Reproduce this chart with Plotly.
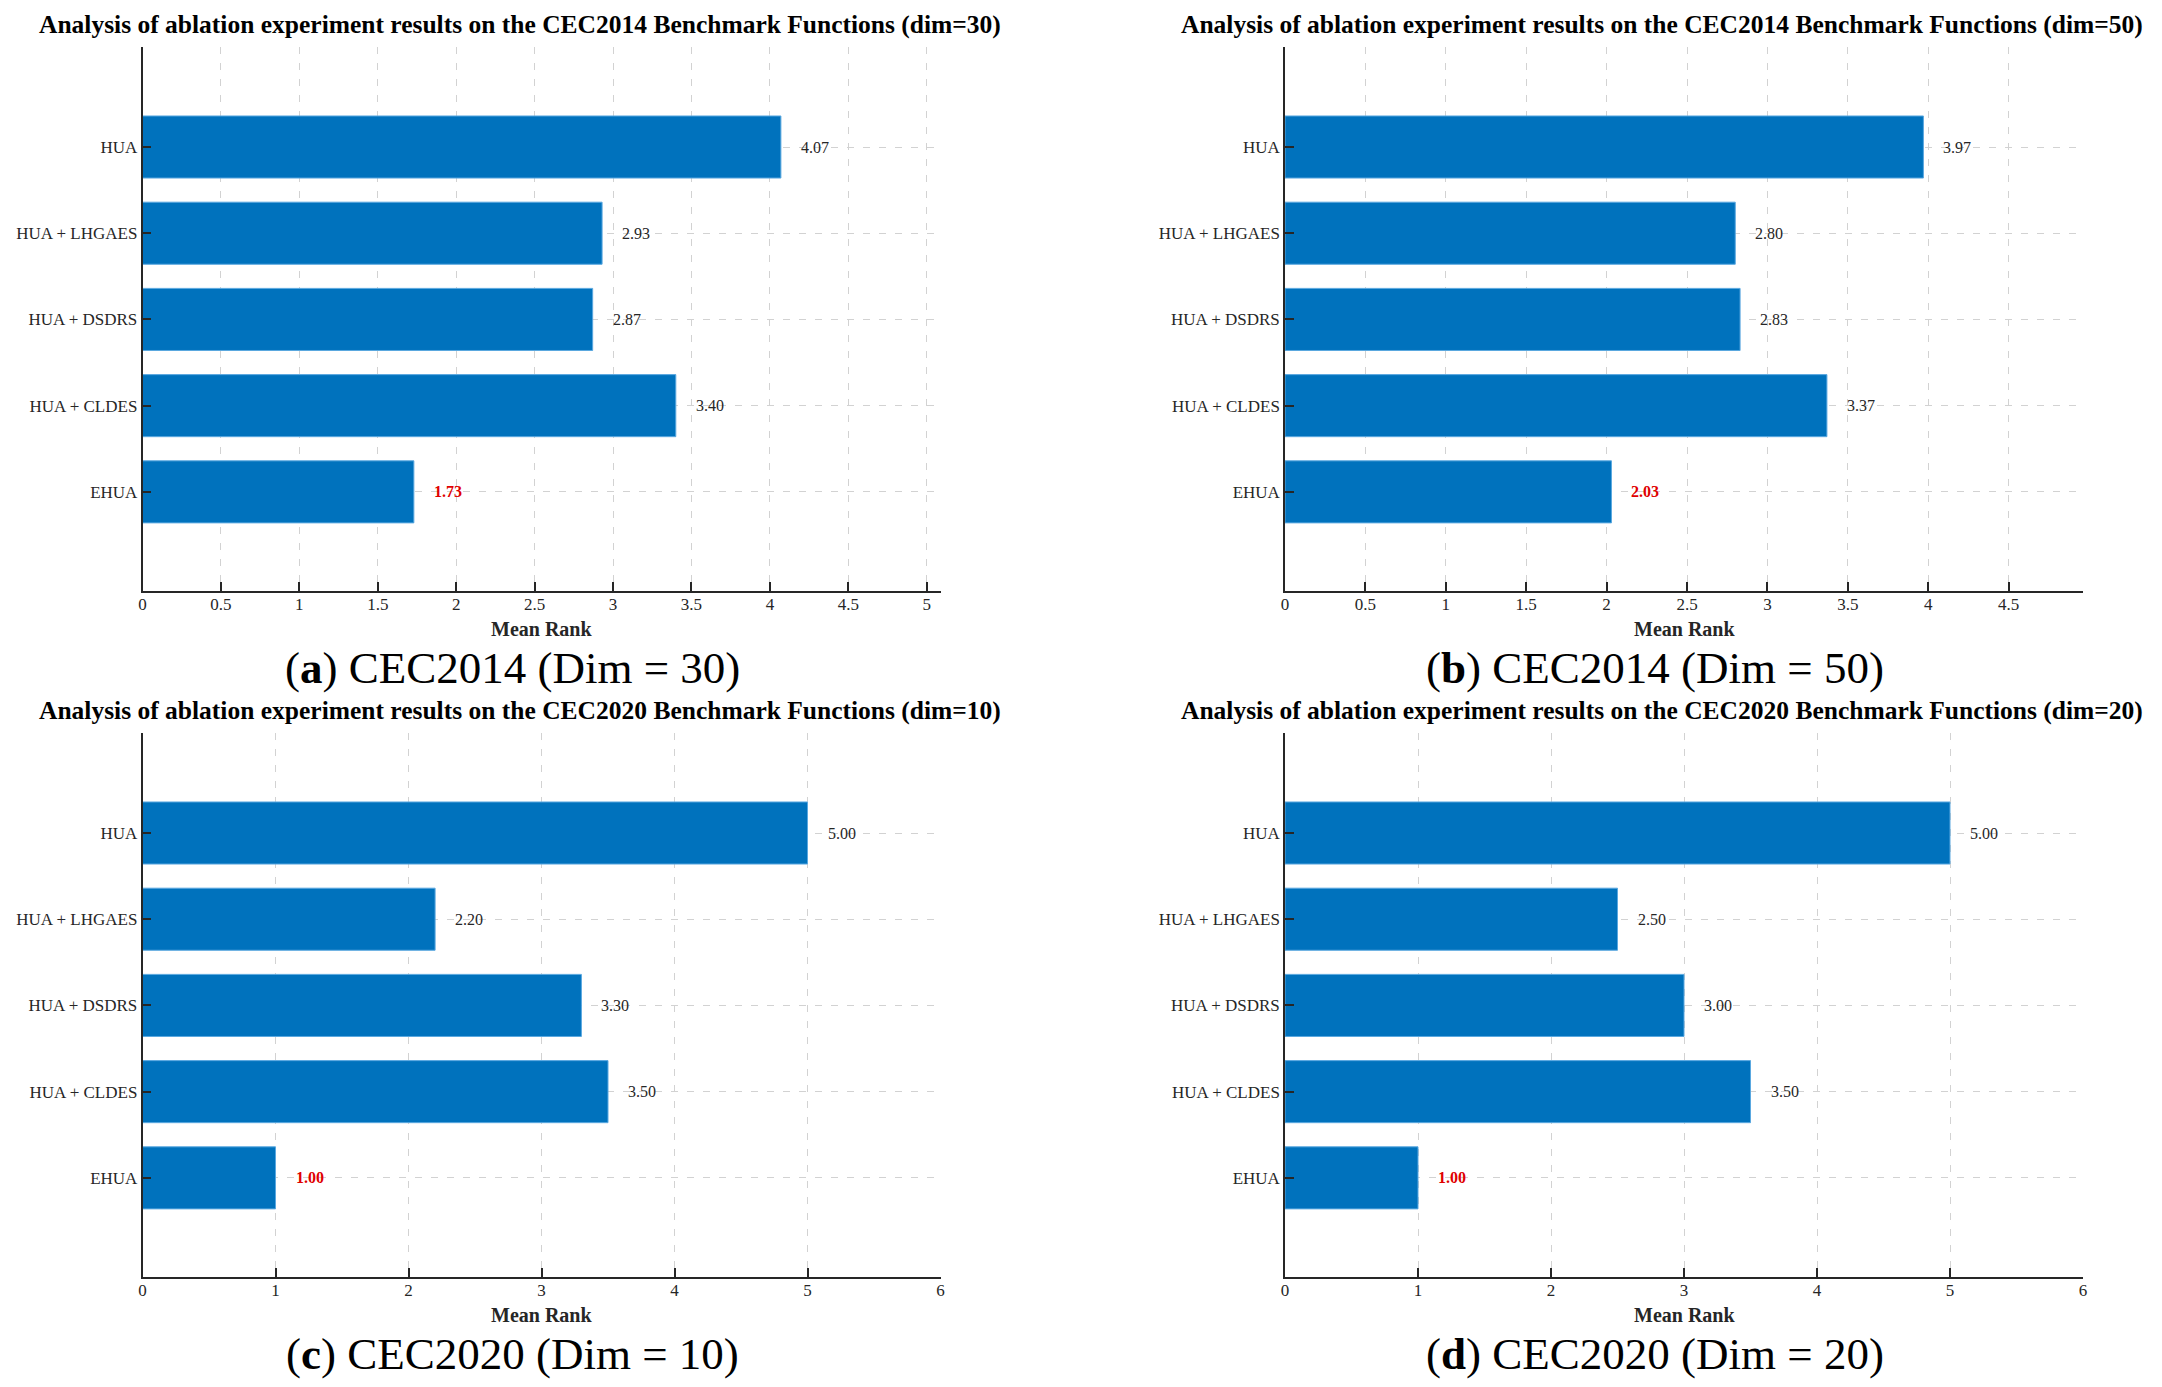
import plotly.graph_objects as go

# ablation results (mean rank), bottom to top as drawn
variants = ["EHUA", "HUA + CLDES", "HUA + DSDRS", "HUA + LHGAES", "HUA"]
cec2014_dim30 = [1.73, 3.40, 2.87, 2.93, 4.07]
cec2014_dim50 = [2.03, 3.37, 2.83, 2.80, 3.97]
cec2020_dim10 = [1.00, 3.50, 3.30, 2.20, 5.00]
cec2020_dim20 = [1.00, 3.50, 3.00, 2.50, 5.00]

titles = [
    "Analysis of ablation experiment results on the CEC2014 Benchmark Functions (dim=30)",
    "Analysis of ablation experiment results on the CEC2014 Benchmark Functions (dim=50)",
    "Analysis of ablation experiment results on the CEC2020 Benchmark Functions (dim=10)",
    "Analysis of ablation experiment results on the CEC2020 Benchmark Functions (dim=20)",
]
captions = [
    ("a", "CEC2014 (Dim = 30)"),
    ("b", "CEC2014 (Dim = 50)"),
    ("c", "CEC2020 (Dim = 10)"),
    ("d", "CEC2020 (Dim = 20)"),
]
x_max = [5.0875, 4.9625, 6, 6]
x_step = [0.5, 0.5, 1, 1]
x_last_tick = [5, 4.5, 6, 6]

W, H = 2162, 1387
FONT = "Liberation Serif"
DARK = "#262626"
BAR = "#0072BD"

# panel boxes in pixels: left, right, top, bottom
cols = [(142.5, 940.5), (1285, 2083)]
rows = [(47, 591), (733, 1277)]

all_data = [cec2014_dim30, cec2014_dim50, cec2020_dim10, cec2020_dim20]

fig = go.Figure()
annotations = []

for k, values in enumerate(all_data):
    r, c = divmod(k, 2)
    x0, x1 = cols[c]
    y0, y1 = rows[r]
    ax = "" if k == 0 else str(k + 1)
    xa, ya = "x" + ax, "y" + ax

    fig.add_trace(go.Bar(
        x=values, y=variants, orientation="h",
        marker=dict(color=BAR, line=dict(color="#5aa8e0", width=1)),
        width=0.72, xaxis=xa, yaxis=ya, showlegend=False,
        hoverinfo="x+y",
    ))

    ticks = []
    t = 0
    while t <= x_last_tick[k] + 1e-9:
        ticks.append(round(t, 2))
        t += x_step[k]

    axis_common = dict(
        showline=True, linecolor=DARK, linewidth=1.5, automargin=False,
        ticks="inside", tickcolor=DARK, ticklen=9, tickwidth=1.5,
        showgrid=True, gridcolor="#d2d2d2", griddash="7px,9px", gridwidth=1,
        zeroline=False, tickfont=dict(family=FONT, size=17, color=DARK),
    )
    fig.update_layout(**{
        ("xaxis" + ax): dict(
            axis_common, domain=[x0 / W, x1 / W], anchor=ya,
            range=[0, x_max[k]], tickvals=ticks,
            ticktext=[("%g" % v) for v in ticks], ticklabelstandoff=-3,
        ),
        ("yaxis" + ax): dict(
            axis_common, domain=[1 - y1 / H, 1 - y0 / H], anchor=xa,
            type="category", categoryorder="array", categoryarray=variants,
            range=[-1.15, 5.16], ticklabelstandoff=0,
        ),
    })

    # value labels next to each bar
    for name, v in zip(variants, values):
        best = name == "EHUA"
        annotations.append(dict(
            x=v, y=name, xref=xa, yref=ya,
            text=("<b>%.2f</b>" if best else "%.2f") % v,
            xanchor="left", yanchor="middle", xshift=18, showarrow=False,
            font=dict(family=FONT, size=16,
                      color="#e00000" if best else DARK),
        ))

    cx = (x0 + x1) / 2
    annotations.append(dict(
        x=(cx - 22) / W, y=1 - (y0 - 23) / H, xref="paper", yref="paper",
        text="<b>" + titles[k] + "</b>", showarrow=False,
        xanchor="center", yanchor="middle",
        font=dict(family=FONT, size=25.5, color="black"),
    ))
    annotations.append(dict(
        x=cx / W, y=1 - (y1 + 38) / H, xref="paper", yref="paper",
        text="<b>Mean Rank</b>", showarrow=False,
        xanchor="center", yanchor="middle",
        font=dict(family=FONT, size=20, color=DARK),
    ))
    letter, cap = captions[k]
    annotations.append(dict(
        x=(cx - 29) / W, y=1 - (y1 + 77) / H, xref="paper", yref="paper",
        text="(<b>" + letter + "</b>) " + cap, showarrow=False,
        xanchor="center", yanchor="middle",
        font=dict(family=FONT, size=45, color="black"),
    ))

fig.update_layout(
    width=W, height=H, autosize=False,
    margin=dict(l=0, r=0, t=0, b=0),
    paper_bgcolor="white", plot_bgcolor="white",
    annotations=annotations, bargap=0.3,
)

# drop the default page margin so the figure sits at the window's corner
fig.write_html("out.html", config={"displayModeBar": False},
               post_script="document.body.style.margin='0';"
                           "document.body.style.overflow='hidden';")
